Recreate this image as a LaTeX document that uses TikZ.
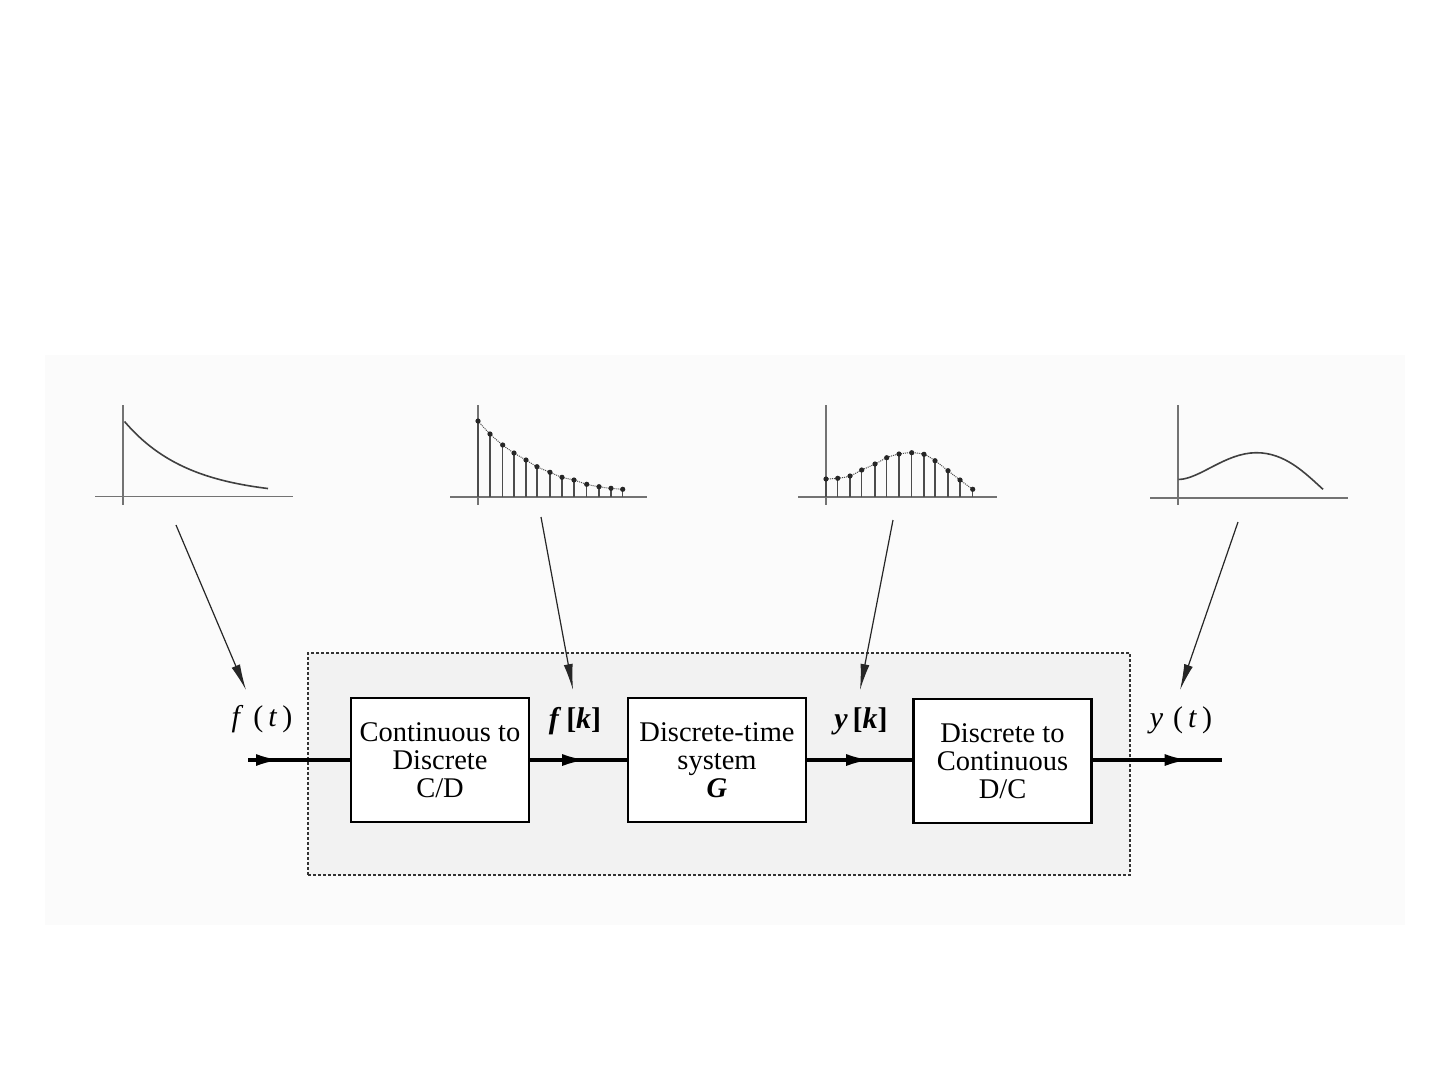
\documentclass[tikz,border=0pt]{standalone}
\usepackage{fontspec}
\setmainfont{Liberation Serif}
\usetikzlibrary{arrows.meta,decorations.markings}
\begin{document}
\begin{tikzpicture}[x=1pt,y=-1pt,
  blockbox/.style={draw=black,line width=2.4pt,fill=white,minimum width=178pt,minimum height=124pt,inner sep=0pt,align=center,font=\fontsize{28.5}{28}\selectfont},
  sysbox/.style={draw=black!80,line width=1.4pt,dash pattern=on 3pt off 2pt,fill=black!5,minimum width=822pt,minimum height=222pt,inner sep=0pt},
  siglabel/.style={font=\fontsize{30}{30}\selectfont,inner sep=0pt},
  axis/.style={draw=black!55,line width=1.6pt},
  curve/.style={draw=black!75,line width=1.6pt},
  stem/.style={draw=black!70,line width=1.4pt},
  pointer/.style={draw=black!85,line width=1.2pt,-{Latex[length=26pt,width=9pt]}},
  sigline/.style={draw=black,line width=3.2pt},
  midarrow/.style={postaction={decorate},decoration={markings,mark=at position #1 with {\arrow{Latex[length=24pt,width=12pt]}}}}
]
\useasboundingbox (0,0) rectangle (1437,1077);
\fill[black!1.5] (45,355) rectangle (1405,925);

% dashed system box
\node[sysbox] (sys) at (719,764) {};

% blocks
\node[blockbox] (cd) at (440,760) {Continuous to\\Discrete\\C/D};
\node[blockbox] (dt) at (717,760) {Discrete-time\\system\\\textbf{\textit{G}}};
\node[blockbox] (dc) at (1002.5,761) {Discrete to\\Continuous\\D/C};

% signal line
\coordinate (in) at (248,760);
\coordinate (out) at (1222,760);
\draw[sigline,midarrow=32pt] (in) -- (cd.west |- in);
\draw[sigline,midarrow=56pt] (cd.east |- in) -- (dt.west |- in);
\draw[sigline,midarrow=63pt] (dt.east |- in) -- (dc.west |- in);
\draw[sigline,midarrow=96pt] (dc.east |- in) -- (out);

% labels
\node[siglabel] (lft) at (262,719) {\textit{f}\,\,(\,\textit{t}\,)};
\node[siglabel] (lfk) at (575,721) {\textbf{\textit{f}\,[\textit{k}]}};
\node[siglabel] (lyk) at (861,721) {\textbf{\textit{y}\,[\textit{k}]}};
\node[siglabel] (lyt) at (1181,720) {\textit{y}\,\,(\,\textit{t}\,)};

% plot 1: f(t)
\draw[axis] (123,405) -- (123,505);
\draw[axis] (95,496.5) -- (293,496.5);
\draw[curve] plot[domain=124.5:268,samples=40] (\x,{496.5-75*exp(-(\x-124.5)/64)});

% plot 2: f[k]
\draw[axis] (478,405) -- (478,505);
\draw[axis] (450,497) -- (647,497);
\draw[black!70,line width=1pt,densely dotted] plot[smooth] coordinates {(478,421) (490,434) (502.7,445) (514,453) (526,460) (537,466.7) (550,472.3) (562,477.3) (574,480) (586.7,484.3) (599,486.7) (611,488.3) (622.7,489.3)};
\foreach \px/\py in {478/421,490/434,502.7/445,514/453,526/460,537/466.7,550/472.3,562/477.3,574/480,586.7/484.3,599/486.7,611/488.3,622.7/489.3}{
  \draw[stem] (\px,497) -- (\px,\py);
  \fill[black!85] (\px,\py) circle (2.6pt);
}

% plot 3: y[k]
\draw[axis] (826,405) -- (826,505);
\draw[axis] (798,497) -- (997,497);
\draw[black!70,line width=1pt,densely dotted] plot[smooth] coordinates {(826,479) (837.7,478.3) (850,476) (861.7,470) (875,464) (886.7,457.7) (899,454) (911.7,452.7) (924,454.3) (935,460.7) (948,470.7) (960,480) (972.7,489.3)};
\foreach \px/\py in {826/479,837.7/478.3,850/476,861.7/470,875/464,886.7/457.7,899/454,911.7/452.7,924/454.3,935/460.7,948/470.7,960/480,972.7/489.3}{
  \draw[stem] (\px,497) -- (\px,\py);
  \fill[black!85] (\px,\py) circle (2.6pt);
}

% plot 4: y(t)
\draw[axis] (1178,405) -- (1178,505);
\draw[axis] (1150,498) -- (1348,498);
\draw[curve] (1178.5,479.5) .. controls (1200,479) and (1225,453) .. (1256,452.7) .. controls (1285,452.5) and (1305,473) .. (1323,489.3);

% pointer arrows
\coordinate (p1) at (176,525);
\coordinate (p2) at (541,517);
\coordinate (p3) at (893,520);
\coordinate (p4) at (1238,522);
\coordinate (e1) at (246,690);
\coordinate (e2) at (573,690);
\coordinate (e3) at (860,690);
\coordinate (e4) at (1180,690);
\draw[pointer] (p1) -- (e1);
\draw[pointer] (p2) -- (e2);
\draw[pointer] (p3) -- (e3);
\draw[pointer] (p4) -- (e4);
\end{tikzpicture}
\end{document}
